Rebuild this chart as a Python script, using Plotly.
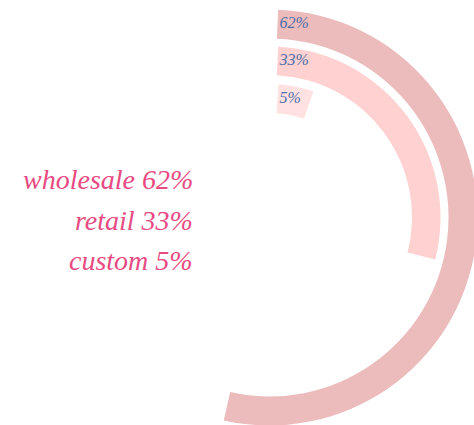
import math
import plotly.graph_objects as go

# Sales channel split
categories = ["wholesale", "retail", "custom"]
shares = [62, 33, 5]

# Styling / layout constants
ring_colors = ["#ecbcbd", "#ffd1d1", "#ffe1e1"]
ring_inner = [179.0, 142.5, 104.5]   # radial-axis units (ring base)
ring_outer = [208.0, 171.0, 133.5]   # radial-axis units (ring top)
DEG_PER_PCT = 3.07                   # angular sweep per percentage point
PAD = 8.0                            # straight offset of the ring ends
LABEL_PAD = 10.0
R_MAX = 217.5

FIG_W, FIG_H = 490, 435
LEGEND_PINK = "#e84a82"
VALUE_BLUE = "#4d6ea8"
SERIF = "Liberation Serif"

fig = go.Figure()

for i, (cat, val) in enumerate(zip(categories, shares)):
    r0, r1 = ring_inner[i], ring_outer[i]
    r_mid = (r0 + r1) / 2
    start = math.degrees(math.asin(PAD / r_mid))
    sweep = val * DEG_PER_PCT
    fig.add_trace(go.Barpolar(
        r=[r1 - r0],
        base=[r0],
        theta=[start + sweep / 2],
        width=[sweep],
        marker=dict(color=ring_colors[i], line=dict(width=0)),
        name=cat,
        showlegend=False,
        hoverinfo="skip",
    ))

# Value labels at the start of each ring
label_r = [(a + b) / 2 for a, b in zip(ring_inner, ring_outer)]
label_theta = [math.degrees(math.asin(LABEL_PAD / r)) for r in label_r]
fig.add_trace(go.Scatterpolar(
    r=label_r,
    theta=label_theta,
    mode="text",
    text=[f"{v}%" for v in shares],
    textposition="middle right",
    textfont=dict(family=SERIF, size=16, color=VALUE_BLUE, style="italic"),
    showlegend=False,
    hoverinfo="skip",
))

# Legend block on the left
legend_y_px = [179, 220, 260]
for i, (cat, val) in enumerate(zip(categories, shares)):
    fig.add_annotation(
        x=195 / FIG_W, y=1 - legend_y_px[i] / FIG_H,
        xref="paper", yref="paper",
        xanchor="right", yanchor="middle",
        text=f"{cat} {val}%",
        showarrow=False,
        font=dict(family=SERIF, size=28, color=LEGEND_PINK, style="italic"),
    )

cx_px = 269.5
fig.update_layout(
    width=FIG_W, height=FIG_H,
    margin=dict(l=0, r=0, t=0, b=0),
    paper_bgcolor="white",
    plot_bgcolor="white",
    polar=dict(
        domain=dict(x=[(cx_px - R_MAX) / FIG_W, (cx_px + R_MAX) / FIG_W],
                    y=[0.0, 1.0]),
        bgcolor="white",
        radialaxis=dict(range=[0, R_MAX], visible=False, showgrid=False),
        angularaxis=dict(rotation=90, direction="clockwise", visible=False,
                         showgrid=False),
        barmode="overlay",
    ),
)

fig.write_html(
    "out.html",
    config={"displayModeBar": False},
    post_script="document.documentElement.style.overflow='hidden';"
                "document.body.style.overflow='hidden';"
                "document.body.style.margin='0';",
)
